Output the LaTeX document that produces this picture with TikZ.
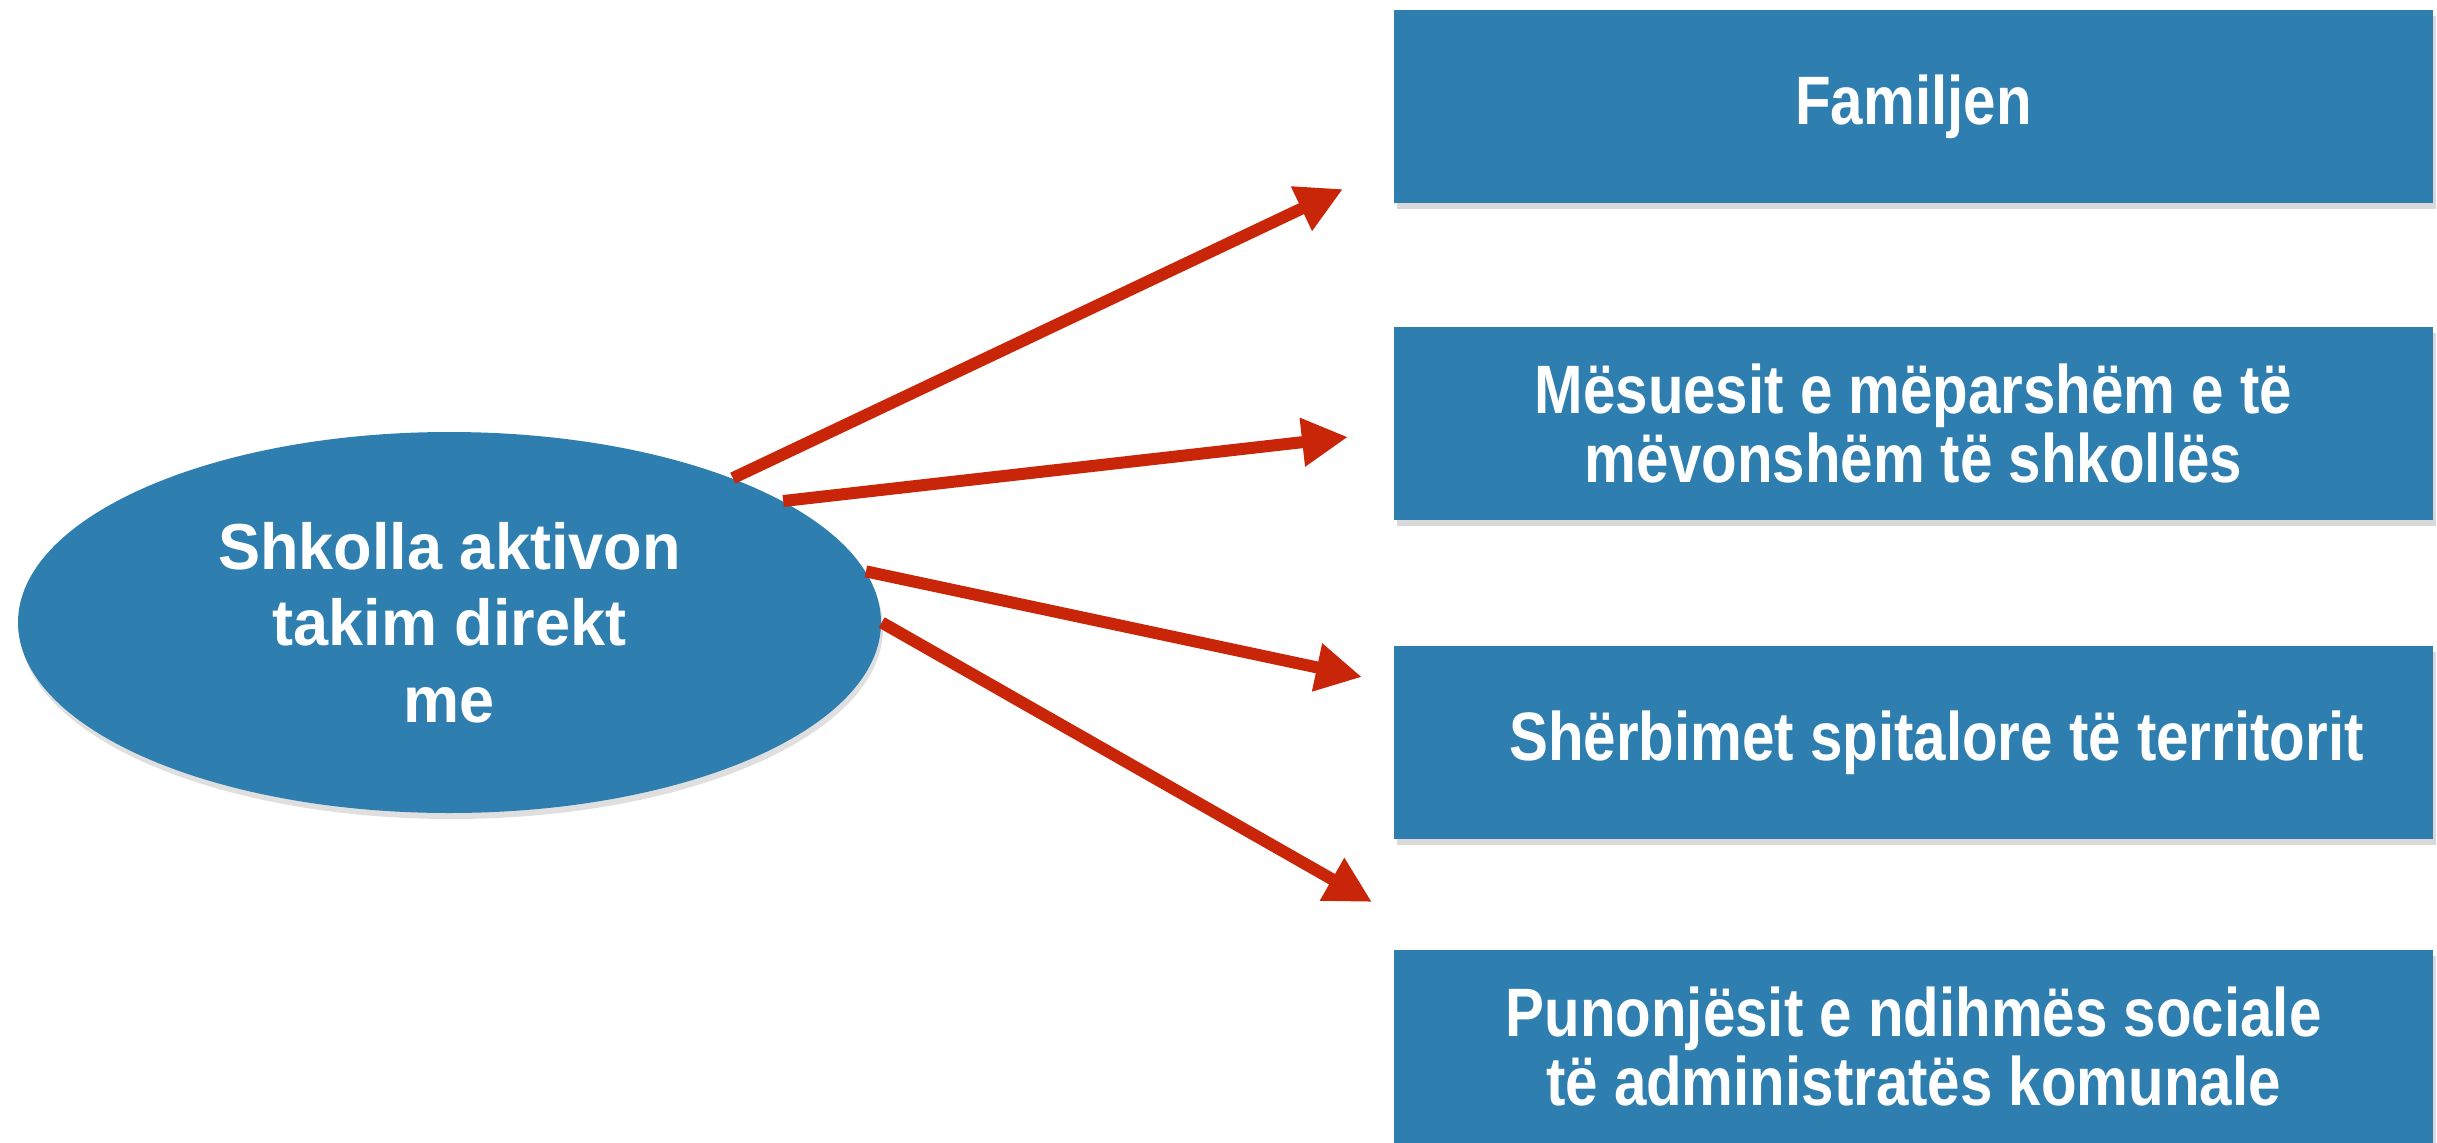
\documentclass[tikz,border=0pt]{standalone}
\usepackage{fontspec}
\setmainfont{Liberation Sans}
\newfontfamily\boxfont[FakeStretch=0.85]{Liberation Sans Bold}
\newfontfamily\ovalfont[FakeStretch=0.97]{Liberation Sans Bold}
\usetikzlibrary{arrows.meta,shapes.geometric,shadows}
\definecolor{paperblue}{RGB}{47,126,176}
\definecolor{arrowred}{RGB}{201,37,8}
\newcommand{\mycolor}{paperblue}
\newcommand{\mylinecolor}{arrowred}

\begin{document}
\begin{tikzpicture}[x=0.1mm,y=-0.1mm,
  target/.style={fill=\mycolor, minimum width=103.9mm, minimum height=19.3mm, inner sep=0pt,
    text=white, align=center, font=\boxfont\fontsize{19.5}{19.5}\selectfont,
    drop shadow={shadow xshift=0.3mm, shadow yshift=-0.6mm, opacity=0.3}},
  oval/.style={ellipse, fill=\mycolor, minimum width=86.3mm, minimum height=38.1mm, inner sep=0pt,
    text=white, align=center, font=\ovalfont\fontsize{18.5}{21.8}\selectfont,
    drop shadow={shadow xshift=0.2mm, shadow yshift=-0.6mm, opacity=0.25}},
  link/.style={draw=\mylinecolor, line width=1.2mm, -{Triangle[length=4.6mm,width=4.6mm]}}]

 \useasboundingbox (0,0) rectangle (2437,1142);

 \node[oval] (school) at (449.5,622.5) {Shkolla aktivon\\takim direkt\\me};

 \node[target] (family) at (1913.5,106.5) {Familjen};
 \node[target] (teachers) at (1913.5,423.5) {Mësuesit e mëparshëm e të\\mëvonshëm të shkollës};
 \node[target] (hospital) at (1913.5,742.5) {\hspace*{4.6mm}Shërbimet spitalore të territorit};
 \node[target] (social) at (1913.5,1046.5) {Punonjësit e ndihmës sociale\\të administratës komunale};

 \coordinate (tipA) at (1343,189);
 \coordinate (tipB) at (1348,437);
 \coordinate (tipC) at (1362,677);
 \coordinate (tipD) at (1372,902);

   \draw[link] (school.27.3) -- (tipA);
   \draw[link] (school.20.1) -- (tipB);
   \draw[link] (school.7.95) -- (tipC);
   \draw[link] (school.-0.6) -- (tipD);

\end{tikzpicture}
\end{document}
